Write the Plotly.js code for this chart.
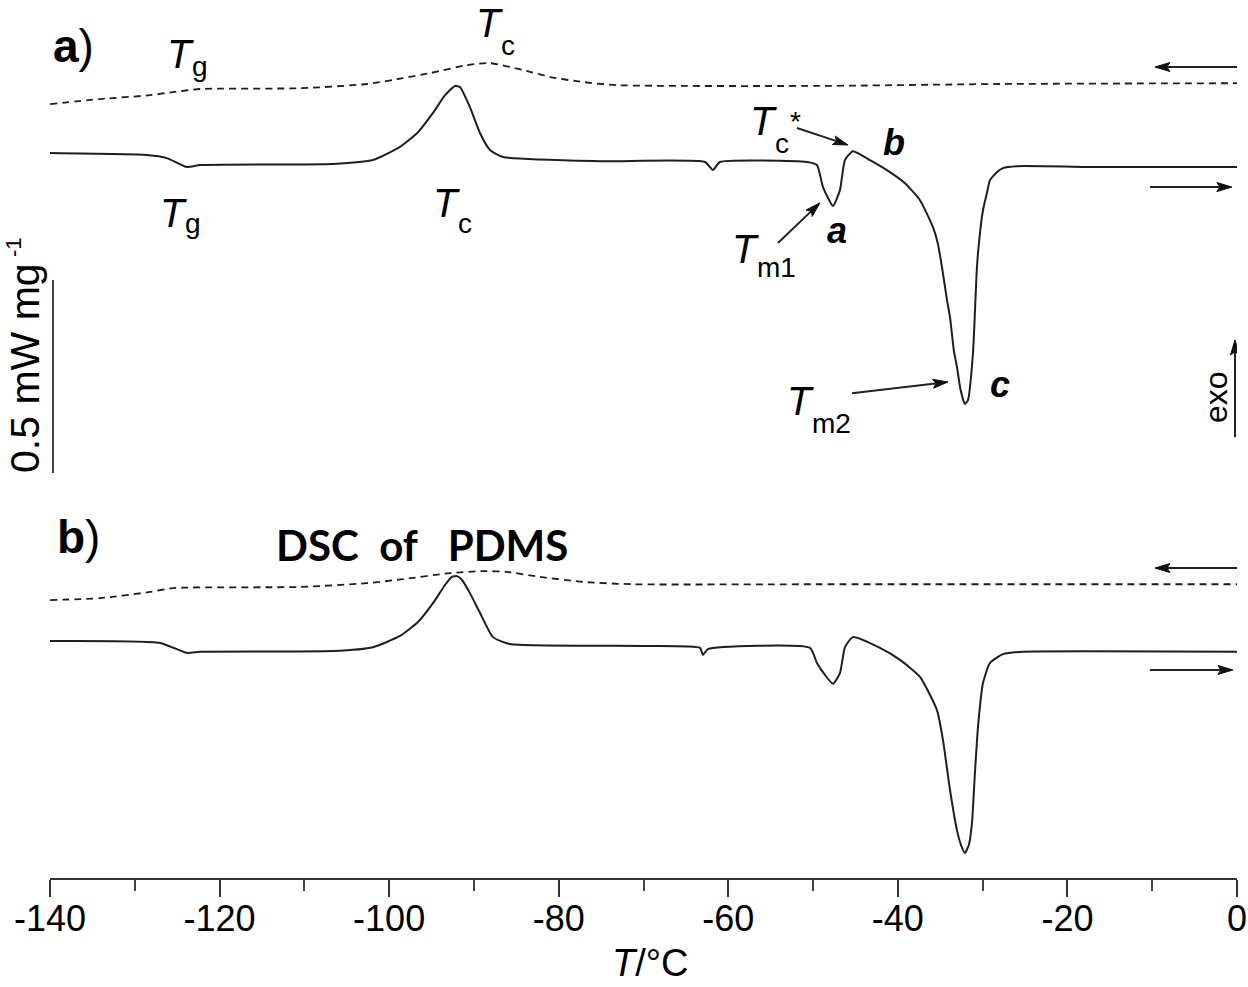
<!DOCTYPE html>
<html>
<head>
<meta charset="utf-8">
<script src="https://cdn.plot.ly/plotly-3.0.1.min.js"></script>
<style>html,body{margin:0;padding:0;background:#fff;}#chart{width:1248px;height:987px;}</style>
</head>
<body>
<div id="chart"></div>
<script>
// ---- Data (temperature in °C, heat flow in mW/mg relative to each curve's start) ----
// (a) cooling scan (dashed)
const coolA_T = [-140, -134.1, -128.2, -125.5, -122.3, -110.5, -102.6, -98.4, -95.2, -90.8, -88.1, -84.2, -81.0, -77.1, -73.1, -49.5, -28.0, 0];
const coolA_Q = [0, 0.013, 0.023, 0.031, 0.039, 0.041, 0.052, 0.067, 0.080, 0.101, 0.106, 0.088, 0.070, 0.057, 0.049, 0.047, 0.052, 0.054];
// (a) heating scan (solid)
const heatA_T = [-140, -128.56, -126.2, -123.84, -122.31, -106.62, -101.91, -98.72, -96.6, -94.83, -93.41, -92.23, -91.65, -90.47, -89.29, -88.11, -86.57, -75.13, -62.75, -61.81, -60.98, -50.72, -49.54, -48.83, -47.65, -46.83, -46.24, -45.3, -43.29, -41.29, -39.16, -37.39, -35.86, -35.3, -34.8, -34.2, -33.85, -33.4, -33.03, -32.6, -32.09, -31.73, -31.14, -30.67, -30.32, -29.96, -29.5, -29.14, -28.3, -27.6, -25.95, -16.16, 0];
const heatA_Q = [0, -0.005, -0.013, -0.036, -0.031, -0.028, -0.018, 0.016, 0.054, 0.104, 0.150, 0.174, 0.171, 0.119, 0.052, 0.008, -0.010, -0.021, -0.023, -0.044, -0.023, -0.023, -0.031, -0.088, -0.137, -0.096, -0.018, 0.005, -0.018, -0.044, -0.078, -0.122, -0.192, -0.233, -0.295, -0.381, -0.425, -0.511, -0.554, -0.614, -0.650, -0.640, -0.518, -0.295, -0.208, -0.148, -0.104, -0.070, -0.049, -0.039, -0.034, -0.036, -0.036];
// (b) cooling scan (dashed)
const coolB_T = [-140, -134.1, -128.2, -125.5, -110.5, -102.6, -98.4, -92.8, -88.9, -86.1, -82.2, -77.1, -71.2, -49.5, 0];
const coolB_Q = [0, 0.005, 0.021, 0.031, 0.034, 0.044, 0.054, 0.070, 0.075, 0.073, 0.060, 0.047, 0.041, 0.041, 0.041];
// (b) heating scan (solid)
const heatB_T = [-140, -127.03, -123.84, -122.31, -106.62, -101.91, -98.72, -96.6, -94.83, -93.41, -92.59, -92.0, -91.41, -90.47, -89.29, -87.75, -85.75, -69.59, -63.34, -62.99, -62.4, -50.37, -49.54, -48.6, -47.65, -46.83, -46.24, -45.3, -42.11, -39.75, -37.39, -35.39, -34.68, -33.85, -33.03, -32.56, -32.09, -31.62, -31.26, -30.91, -30.55, -29.96, -29.14, -27.6, -25.25, 0];
const heatB_Q = [0, -0.005, -0.031, -0.028, -0.026, -0.016, 0.013, 0.049, 0.098, 0.145, 0.166, 0.168, 0.158, 0.124, 0.073, 0.010, -0.008, -0.013, -0.018, -0.036, -0.021, -0.018, -0.057, -0.088, -0.111, -0.083, -0.016, 0.010, -0.018, -0.049, -0.093, -0.179, -0.256, -0.386, -0.490, -0.528, -0.549, -0.528, -0.472, -0.342, -0.223, -0.109, -0.057, -0.034, -0.028, -0.028];

const tickVals = [-140, -120, -100, -80, -60, -40, -20, 0];
const tickText = ["-140", "-120", "-100", "-80", "-60", "-40", "-20", "0"];

// vertical stacking offsets (mW/mg)
const OFF = {coolA: 2.005, heatA: 1.878, coolB: 0.720, heatB: 0.614};
const shift = (arr, o) => arr.map(v => v + o);

const lineCol = '#1e1e1e';
const traces = [
  {x: coolA_T, y: shift(coolA_Q, OFF.coolA), mode: 'lines', line: {color: lineCol, width: 1.8, dash: '7px,5px', shape: 'spline', smoothing: 0.6}, name: 'a) cooling'},
  {x: heatA_T, y: shift(heatA_Q, OFF.heatA), mode: 'lines', line: {color: lineCol, width: 2, shape: 'spline', smoothing: 0.5}, name: 'a) heating'},
  {x: coolB_T, y: shift(coolB_Q, OFF.coolB), mode: 'lines', line: {color: lineCol, width: 1.8, dash: '7px,5px', shape: 'spline', smoothing: 0.6}, name: 'b) cooling'},
  {x: heatB_T, y: shift(heatB_Q, OFF.heatB), mode: 'lines', line: {color: lineCol, width: 2, shape: 'spline', smoothing: 0.5}, name: 'b) heating'}
];

// axis geometry
const X_RANGE = [-140, 0], Y_RANGE = [0, 2.2746];
const ML = 50, MT = 0, PLOT_W = 1187, PLOT_H = 878;
const DX = (X_RANGE[1] - X_RANGE[0]) / PLOT_W, DY = (Y_RANGE[1] - Y_RANGE[0]) / PLOT_H;
const toX = px => X_RANGE[0] + (px - ML) * DX;
const toY = py => Y_RANGE[0] + (MT + PLOT_H - py) * DY;

function arrowShapes(xt, yt, xh, yh, headLen, halfW) {
  headLen = headLen || 15; halfW = halfW || 4.5;
  const dxp = (xh - xt) / DX, dyp = (yh - yt) / DY;
  const L = Math.hypot(dxp, dyp), ux = dxp / L, uy = dyp / L;
  const bx = -ux * headLen, by = -uy * headLen;
  const nx = -uy * halfW, ny = ux * halfW;
  const P = (px, py) => (xh + px * DX).toFixed(4) + ',' + (yh + py * DY).toFixed(5);
  return [
    {type: 'line', xref: 'x', yref: 'y', x0: xt, y0: yt, x1: xh + bx * 0.7 * DX, y1: yh + by * 0.7 * DY, line: {color: '#222', width: 2}},
    {type: 'path', xref: 'x', yref: 'y', path: 'M' + P(0, 0) + ' L' + P(bx + nx, by + ny) + ' L' + P(bx * 0.8, by * 0.8) + ' L' + P(bx - nx, by - ny) + ' Z', fillcolor: '#111', line: {color: '#111', width: 1}}
  ];
}

const F = 'Liberation Sans, Arial, Helvetica, sans-serif';
// text placed by left edge / baseline
function txt(text, leftPx, baselinePx, size, style) {
  return {text: text, x: toX(leftPx), y: toY(baselinePx - 0.3465 * size), xref: 'x', yref: 'y',
    showarrow: false, xanchor: 'left', yanchor: 'middle', borderpad: 0,
    font: Object.assign({family: F, size: size, color: '#000'}, style || {})};
}
const IT = {style: 'italic'}, BI = {style: 'italic', weight: 'bold'};
const T_W = 0.611 * 40; // advance width of the symbol T
// symbol T with subscript (and optional superscript), subscript set right after T
function sym(tLeft, tBase, sub, sBase, sup, supBase) {
  const sLeft = tLeft + T_W + 1;
  const out = [txt('T', tLeft, tBase, 40, IT), txt(sub, sLeft, sBase, 28)];
  if (sup) out.push(txt(sup, sLeft + 0.5 * 28 + 1, supBase, 28));
  return out;
}

const annotations = [].concat(
  [txt('<b>a</b>)', 52, 62, 46), txt('<b>b</b>)', 56, 553, 46)],
  sym(166, 68, 'g', 76),
  sym(159, 227, 'g', 233),
  sym(475, 37, 'c', 55),
  sym(432, 217, 'c', 233),
  sym(749, 135, 'c', 153, '*', 131),
  sym(731, 263, 'm1', 277),
  sym(786, 415, 'm2', 433),
  [
    txt('b', 882, 155, 36, BI),
    txt('a', 826, 243, 36, BI),
    txt('c', 989, 397, 36, BI),
    {text: 'exo', x: toX(1216), y: toY(397), xref: 'x', yref: 'y', showarrow: false, textangle: -90, xanchor: 'center', yanchor: 'middle', font: {family: F, size: 32, color: '#000'}},
    {text: '0.5 mW mg', x: (25 - ML) / PLOT_W, y: toY(368), xref: 'paper', yref: 'y', showarrow: false, textangle: -90, xanchor: 'center', yanchor: 'middle', font: {family: F, size: 41, color: '#000'}},
    {text: '-1', x: (13 - ML) / PLOT_W, y: toY(247), xref: 'paper', yref: 'y', showarrow: false, textangle: -90, xanchor: 'center', yanchor: 'middle', font: {family: F, size: 22, color: '#000'}},
    {text: 'DSC\u00a0\u00a0of\u00a0\u00a0\u00a0PDMS', x: -96.07, y: 0.862, xref: 'x', yref: 'y', showarrow: false, xanchor: 'center', yanchor: 'middle', font: {family: 'Lato, Open Sans, sans-serif', size: 42, weight: 'bold', color: '#000'}},
    // x-axis title
    {text: '<i>T</i>/°C', x: toX(650), y: (PLOT_H - (976 - 0.3465 * 38)) / PLOT_H, xref: 'x', yref: 'paper', showarrow: false, xanchor: 'center', yanchor: 'middle', borderpad: 0, font: {family: F, size: 38, color: '#000'}}
  ]
);

const shapes = [].concat(
  // 0.5 mW/mg scale bar
  [{type: 'line', xref: 'x', yref: 'y', x0: toX(53), x1: toX(53), y0: 1.049, y1: 1.549, line: {color: '#444', width: 2}}],
  // pointer arrows
  arrowShapes(-51.90, 1.943, -45.88, 1.899),
  arrowShapes(-54.14, 1.645, -49.19, 1.749),
  arrowShapes(-45.41, 1.256, -34.09, 1.285),
  // scan direction arrows
  arrowShapes(0.11, 2.101, -9.68, 2.101),
  arrowShapes(-10.27, 1.790, -0.60, 1.790),
  arrowShapes(0.11, 0.803, -9.68, 0.803),
  arrowShapes(-10.27, 0.539, -0.48, 0.539),
  // exo arrow
  arrowShapes(-0.24, 1.142, -0.24, 1.394)
);

const layout = {
  width: 1248, height: 987,
  margin: {l: ML, r: 11, t: MT, b: 109},
  paper_bgcolor: '#fff', plot_bgcolor: '#fff',
  showlegend: false,
  xaxis: {
    range: X_RANGE, tickmode: 'array', tickvals: tickVals, ticktext: tickText,
    ticks: 'outside', ticklen: 17, tickwidth: 2, tickcolor: '#333',
    minor: {tickmode: 'linear', tick0: -140, dtick: 10, ticks: 'outside', ticklen: 11, tickwidth: 2, tickcolor: '#444'},
    showline: true, linecolor: '#333', linewidth: 2, showgrid: false, zeroline: false,
    tickfont: {family: F, size: 36, color: '#000'},
    ticklabelstandoff: -9,
    automargin: false, fixedrange: true
  },
  yaxis: {range: Y_RANGE, visible: false, showgrid: false, zeroline: false, fixedrange: true},
  shapes: shapes,
  annotations: annotations
};

Plotly.newPlot('chart', traces, layout, {staticPlot: true, displayModeBar: false});
</script>
</body>
</html>
